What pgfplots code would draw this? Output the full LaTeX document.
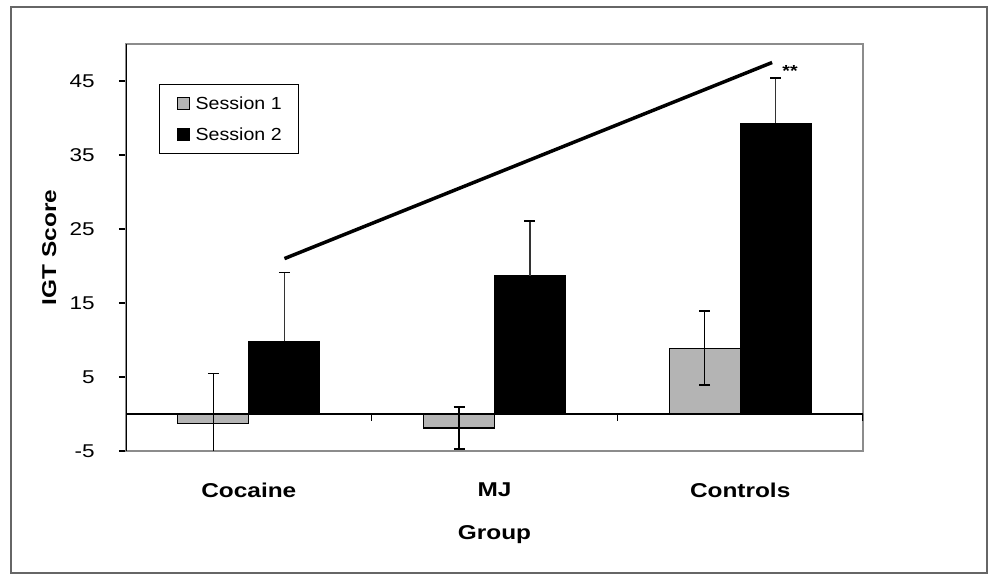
\documentclass[border=0pt]{standalone}
\usepackage{fontspec}
\setmainfont{Liberation Sans}[FakeStretch=1.22]
\newfontfamily\legfont{Liberation Sans}[FakeStretch=1.12]
\usepackage{pgfplots}
\pgfplotsset{compat=1.18}
\definecolor{sone}{RGB}{180,180,180}
\definecolor{boxgray}{RGB}{140,140,140}
\pgfplotsset{sqlegend/.style={legend image code/.code={\draw[##1, line width=1pt] (0pt,-6pt) rectangle (12pt,6pt);}}}
\begin{document}
\begin{tikzpicture}
\useasboundingbox (0,0) rectangle (989pt,575pt);
\draw[black!60, line width=2pt] (11pt,2pt) rectangle (987pt,568pt);
\begin{axis}[
  at={(126pt,124pt)}, anchor=south west,
  scale only axis, width=737pt, height=407pt,
  xmin=-0.5, xmax=2.5, ymin=-5, ymax=50,
  xtick={0,1,2}, xticklabels={Cocaine,MJ,Controls},
  ytick={-5,5,15,25,35,45},
  ytick pos=left, tick align=outside,
  major tick length=7pt,
  x tick style={draw=none},
  y tick style={black, line width=1.2pt},
  axis line style={boxgray, line width=1.8pt},
  /pgf/number format/assume math mode=true,
  yticklabel style={font=\fontsize{18.5}{20}\selectfont, inner sep=0pt, xshift=-24pt},
  xticklabel style={font=\fontsize{20}{22}\selectfont\bfseries, inner sep=0pt, anchor=north, yshift=-25pt},
  xlabel={Group}, ylabel={IGT Score},
  xlabel style={font=\fontsize{20}{22}\selectfont\bfseries, at={(axis description cs:0.5,0)}, anchor=north, inner sep=0pt, yshift=-74pt},
  ylabel style={font=\fontsize{20}{22}\selectfont\bfseries, at={(axis description cs:-0.104,0.5)}, anchor=center, inner sep=0pt},
  legend style={at={(axis description cs:0.0448,0.9017)}, anchor=north west,
    draw=black, line width=1.3pt, inner xsep=17pt, inner ysep=12.5pt,
    row sep=18pt, column sep=6pt,
    font=\legfont\fontsize{17.5}{19}\selectfont,
    nodes={inner sep=0pt, text height=12.5pt, text depth=0pt}},
  legend cell align=left,
]
\addplot[ybar, bar width=71pt, bar shift=0pt, fill=sone, draw=black, line width=1.2pt,
  sqlegend,
  error bars/.cd, y dir=both, y explicit, error mark=|,
  error bar style={black, line width=1.5pt},
  error mark options={mark size=5.5pt, line width=1.5pt, black}]
  coordinates {(-0.1443,-1.3) +- (0,6.8) (0.8557,-1.9) +- (0,2.85) (1.8557,8.9) +- (0,5.0)};
\addlegendentry{Session 1}
\addplot[ybar, bar width=71pt, bar shift=0pt, fill=black, draw=black, line width=1.2pt,
  sqlegend,
  error bars/.cd, y dir=plus, y explicit, error mark=|,
  error bar style={black!80, line width=1.5pt},
  error mark options={mark size=5.5pt, line width=1.5pt, black}]
  coordinates {(0.1443,9.8) +- (0,9.3) (1.1443,18.7) +- (0,7.4) (2.1443,39.3) +- (0,6.1)};
\addlegendentry{Session 2}
\addplot[forget plot, sharp plot, black, line width=3.5pt, no markers]
  coordinates {(0.145,21) (2.13,47.5)};
\draw[black, line width=1.8pt] (axis cs:-0.5,0) -- (axis cs:2.5,0);
\draw[black, line width=1.2pt] (axis cs:0.5,0) -- ++(0pt,-7pt);
\draw[black, line width=1.2pt] (axis cs:1.5,0) -- ++(0pt,-7pt);
\draw[black, line width=1.2pt] (axis cs:2.5,0) -- ++(0pt,-7pt);
\draw[black, line width=1.8pt] (rel axis cs:0,0) -- (rel axis cs:0,1);
\node[font=\fontsize{16}{18}\selectfont\bfseries, anchor=base] at (axis cs:2.203,45.6) {**};
\end{axis}
\end{tikzpicture}
\end{document}
